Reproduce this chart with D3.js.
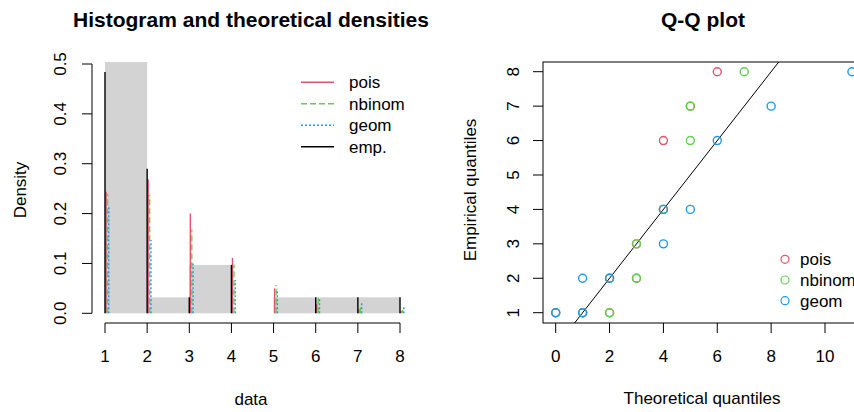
<!DOCTYPE html>
<html>
<head>
<meta charset="utf-8">
<script src="https://cdn.jsdelivr.net/npm/d3@7"></script>
<style>
  body { margin:0; background:#fff; }
  svg { display:block; font-family:"Liberation Sans", Arial, sans-serif; }
</style>
</head>
<body>
<div id="chart"></div>
<script>
// Histogram + theoretical densities (left) and Q-Q plot (right)

// ---- data ----
const xVals = [1, 2, 3, 4, 5, 6, 7, 8];
const empDens    = [0.484, 0.290, 0.032, 0.097, 0.000, 0.032, 0.032, 0.032];
const poisDens   = [0.244, 0.269, 0.200, 0.111, 0.050, 0.018, 0.008, 0.005];
const nbinomDens = [0.240, 0.238, 0.168, 0.098, 0.057, 0.030, 0.013, 0.007];
const geomDens   = [0.217, 0.147, 0.100, 0.067, 0.049, 0.030, 0.021, 0.012];

const histBreaks = [1, 2, 3, 4, 5, 6, 7, 8];
const histDens   = [0.774, 0.032, 0.097, 0.000, 0.032, 0.032, 0.032];

const densTicks = [0, 0.1, 0.2, 0.3, 0.4, 0.5];
const dataTicks = [1, 2, 3, 4, 5, 6, 7, 8];

// [theoretical, empirical]
const qqPois   = [[0,1],[1,1],[2,1],[2,2],[3,2],[3,3],[4,4],[4,6],[5,7],[6,8]];
const qqNbinom = [[0,1],[1,1],[2,1],[2,2],[3,2],[3,3],[4,4],[5,6],[5,7],[7,8]];
const qqGeom   = [[0,1],[1,1],[1,2],[2,2],[4,3],[4,4],[5,4],[6,6],[8,7],[11,8]];

const qqXTicks = [0, 2, 4, 6, 8, 10];
const qqYTicks = [1, 2, 3, 4, 5, 6, 7, 8];

const fitNames = ['pois', 'nbinom', 'geom'];

// ---- styles ----
const COL = { pois:'#DF536B', nbinom:'#61D04F', geom:'#2297E6', emp:'#000' };
const DASH = { pois:null, nbinom:'6,3', geom:'2,2', emp:null };
const SHIFT = { emp:0, pois:0.025, nbinom:0.06, geom:0.09 };
const FS = 17;

const W = 854, H = 412;
const svg = d3.select('#chart').append('svg').attr('width', W).attr('height', H);

// ================= left panel =================
const L = { left:93, right:412, top:62, bottom:323 };
const xL = d3.scaleLinear().domain([1, 8]).range([105, 400]);
const yL = d3.scaleLinear().domain([0, 0.5]).range([313.3, 64]);

svg.append('clipPath').attr('id','clipL').append('rect')
  .attr('x', L.left).attr('y', L.top).attr('width', L.right - L.left).attr('height', L.bottom - L.top);

const gL = svg.append('g').attr('clip-path','url(#clipL)');

// histogram bars
const bins = histDens.map((d, i) => ({ x0: histBreaks[i], x1: histBreaks[i+1], d }));
gL.selectAll('rect.bar').data(bins.filter(b => b.d > 0)).enter().append('rect')
  .attr('class','bar')
  .attr('x', b => xL(b.x0)).attr('width', b => xL(b.x1) - xL(b.x0))
  .attr('y', b => yL(b.d)).attr('height', b => yL(0) - yL(b.d))
  .attr('fill', '#D3D3D3');

// density spikes
const series = [
  { key:'pois', vals:poisDens },
  { key:'nbinom', vals:nbinomDens },
  { key:'geom', vals:geomDens },
  { key:'emp', vals:empDens }
];
series.forEach(s => {
  gL.selectAll('line.' + s.key).data(xVals.map((x, i) => ({ x, v: s.vals[i] })).filter(p => p.v > 0))
    .enter().append('line')
    .attr('x1', p => xL(p.x + SHIFT[s.key])).attr('x2', p => xL(p.x + SHIFT[s.key]))
    .attr('y1', yL(0)).attr('y2', p => yL(p.v))
    .attr('stroke', COL[s.key]).attr('stroke-width', 1.4)
    .attr('stroke-dasharray', DASH[s.key]);
});

// axes (R style)
const axL = svg.append('g').attr('fill','none').attr('stroke','#000').attr('stroke-width',1);
axL.append('line').attr('x1', xL(1)).attr('x2', xL(8)).attr('y1', L.bottom).attr('y2', L.bottom);
axL.selectAll('line.xt').data(dataTicks).enter().append('line')
  .attr('x1', d => xL(d)).attr('x2', d => xL(d)).attr('y1', L.bottom).attr('y2', L.bottom + 10);
svg.selectAll('text.xtl').data(dataTicks).enter().append('text')
  .attr('x', d => xL(d)).attr('y', 362).attr('text-anchor','middle').attr('font-size', FS).text(d => d);

axL.append('line').attr('x1', 92).attr('x2', 92).attr('y1', yL(0)).attr('y2', yL(0.5));
axL.selectAll('line.yt').data(densTicks).enter().append('line')
  .attr('x1', 82).attr('x2', 92).attr('y1', d => yL(d)).attr('y2', d => yL(d));
svg.selectAll('text.ytl').data(densTicks).enter().append('text')
  .attr('transform', d => `translate(65.5,${yL(d)}) rotate(-90)`)
  .attr('text-anchor','middle').attr('font-size', FS).text(d => d3.format('.1f')(d));

svg.append('text').attr('x', 251).attr('y', 404.5).attr('text-anchor','middle').attr('font-size', FS).text('data');
svg.append('text').attr('transform','translate(25.5,190) rotate(-90)').attr('text-anchor','middle')
  .attr('font-size', FS).text('Density');
svg.append('text').attr('x', 251).attr('y', 26.5).attr('text-anchor','middle')
  .attr('font-size', 21).attr('font-weight','bold').text('Histogram and theoretical densities');

// legend
const legL = ['pois','nbinom','geom','emp'];
const legLabels = { pois:'pois', nbinom:'nbinom', geom:'geom', emp:'emp.' };
const legY = d3.scalePoint().domain(legL).range([82.3, 146.7]);
legL.forEach(k => {
  svg.append('line').attr('x1', 301).attr('x2', 334).attr('y1', legY(k)).attr('y2', legY(k))
    .attr('stroke', COL[k]).attr('stroke-width', 1.4).attr('stroke-dasharray', DASH[k]);
  svg.append('text').attr('x', 349).attr('y', legY(k) + 6).attr('font-size', FS).text(legLabels[k]);
});

// ================= right panel =================
const R = { left:543, right:864, top:62, bottom:323 };
const xR = d3.scaleLinear().domain([0, 10]).range([555.7, 825]);
const yR = d3.scaleLinear().domain([1, 8]).range([312.7, 71.7]);

svg.append('clipPath').attr('id','clipR').append('rect')
  .attr('x', R.left).attr('y', R.top).attr('width', R.right - R.left).attr('height', R.bottom - R.top);
const gR = svg.append('g').attr('clip-path','url(#clipR)');

// reference line y = x
gR.append('line')
  .attr('x1', xR(0)).attr('y1', yR(0)).attr('x2', xR(12)).attr('y2', yR(12))
  .attr('stroke','#000').attr('stroke-width',1);

// drawn in the same order as the fits: pois, nbinom, geom
const qqSets = [
  { key:'pois', pts:qqPois },
  { key:'nbinom', pts:qqNbinom },
  { key:'geom', pts:qqGeom }
];
qqSets.forEach(s => {
  gR.selectAll('circle.' + s.key).data(s.pts).enter().append('circle')
    .attr('cx', d => xR(d[0])).attr('cy', d => yR(d[1])).attr('r', 4)
    .attr('fill','none').attr('stroke', COL[s.key]).attr('stroke-width', 1.4);
});

svg.append('rect').attr('x', R.left).attr('y', R.top).attr('width', R.right - R.left).attr('height', R.bottom - R.top)
  .attr('fill','none').attr('stroke','#000').attr('stroke-width',1);

const axR = svg.append('g').attr('stroke','#000').attr('stroke-width',1);
axR.selectAll('line.xt').data(qqXTicks).enter().append('line')
  .attr('x1', d => xR(d)).attr('x2', d => xR(d)).attr('y1', R.bottom).attr('y2', R.bottom + 10);
svg.selectAll('text.qxt').data(qqXTicks).enter().append('text')
  .attr('x', d => xR(d)).attr('y', 362).attr('text-anchor','middle').attr('font-size', FS).text(d => d);
axR.selectAll('line.yt').data(qqYTicks).enter().append('line')
  .attr('x1', R.left - 10).attr('x2', R.left).attr('y1', d => yR(d)).attr('y2', d => yR(d));
svg.selectAll('text.qyt').data(qqYTicks).enter().append('text')
  .attr('transform', d => `translate(519,${yR(d)}) rotate(-90)`)
  .attr('text-anchor','middle').attr('font-size', FS).text(d => d);

svg.append('text').attr('x', 702).attr('y', 403.5).attr('text-anchor','middle').attr('font-size', FS).text('Theoretical quantiles');
svg.append('text').attr('transform','translate(475.5,190) rotate(-90)').attr('text-anchor','middle')
  .attr('font-size', FS).text('Empirical quantiles');
svg.append('text').attr('x', 703).attr('y', 26.5).attr('text-anchor','middle')
  .attr('font-size', 21).attr('font-weight','bold').text('Q-Q plot');

// legend
const legRY = d3.scalePoint().domain(fitNames).range([259.3, 300.7]);
fitNames.forEach(k => {
  svg.append('circle').attr('cx', 785).attr('cy', legRY(k)).attr('r', 4)
    .attr('fill','none').attr('stroke', COL[k]).attr('stroke-width', 1.2);
  svg.append('text').attr('x', 800).attr('y', legRY(k) + 6).attr('font-size', FS).text(k);
});
</script>
</body>
</html>
